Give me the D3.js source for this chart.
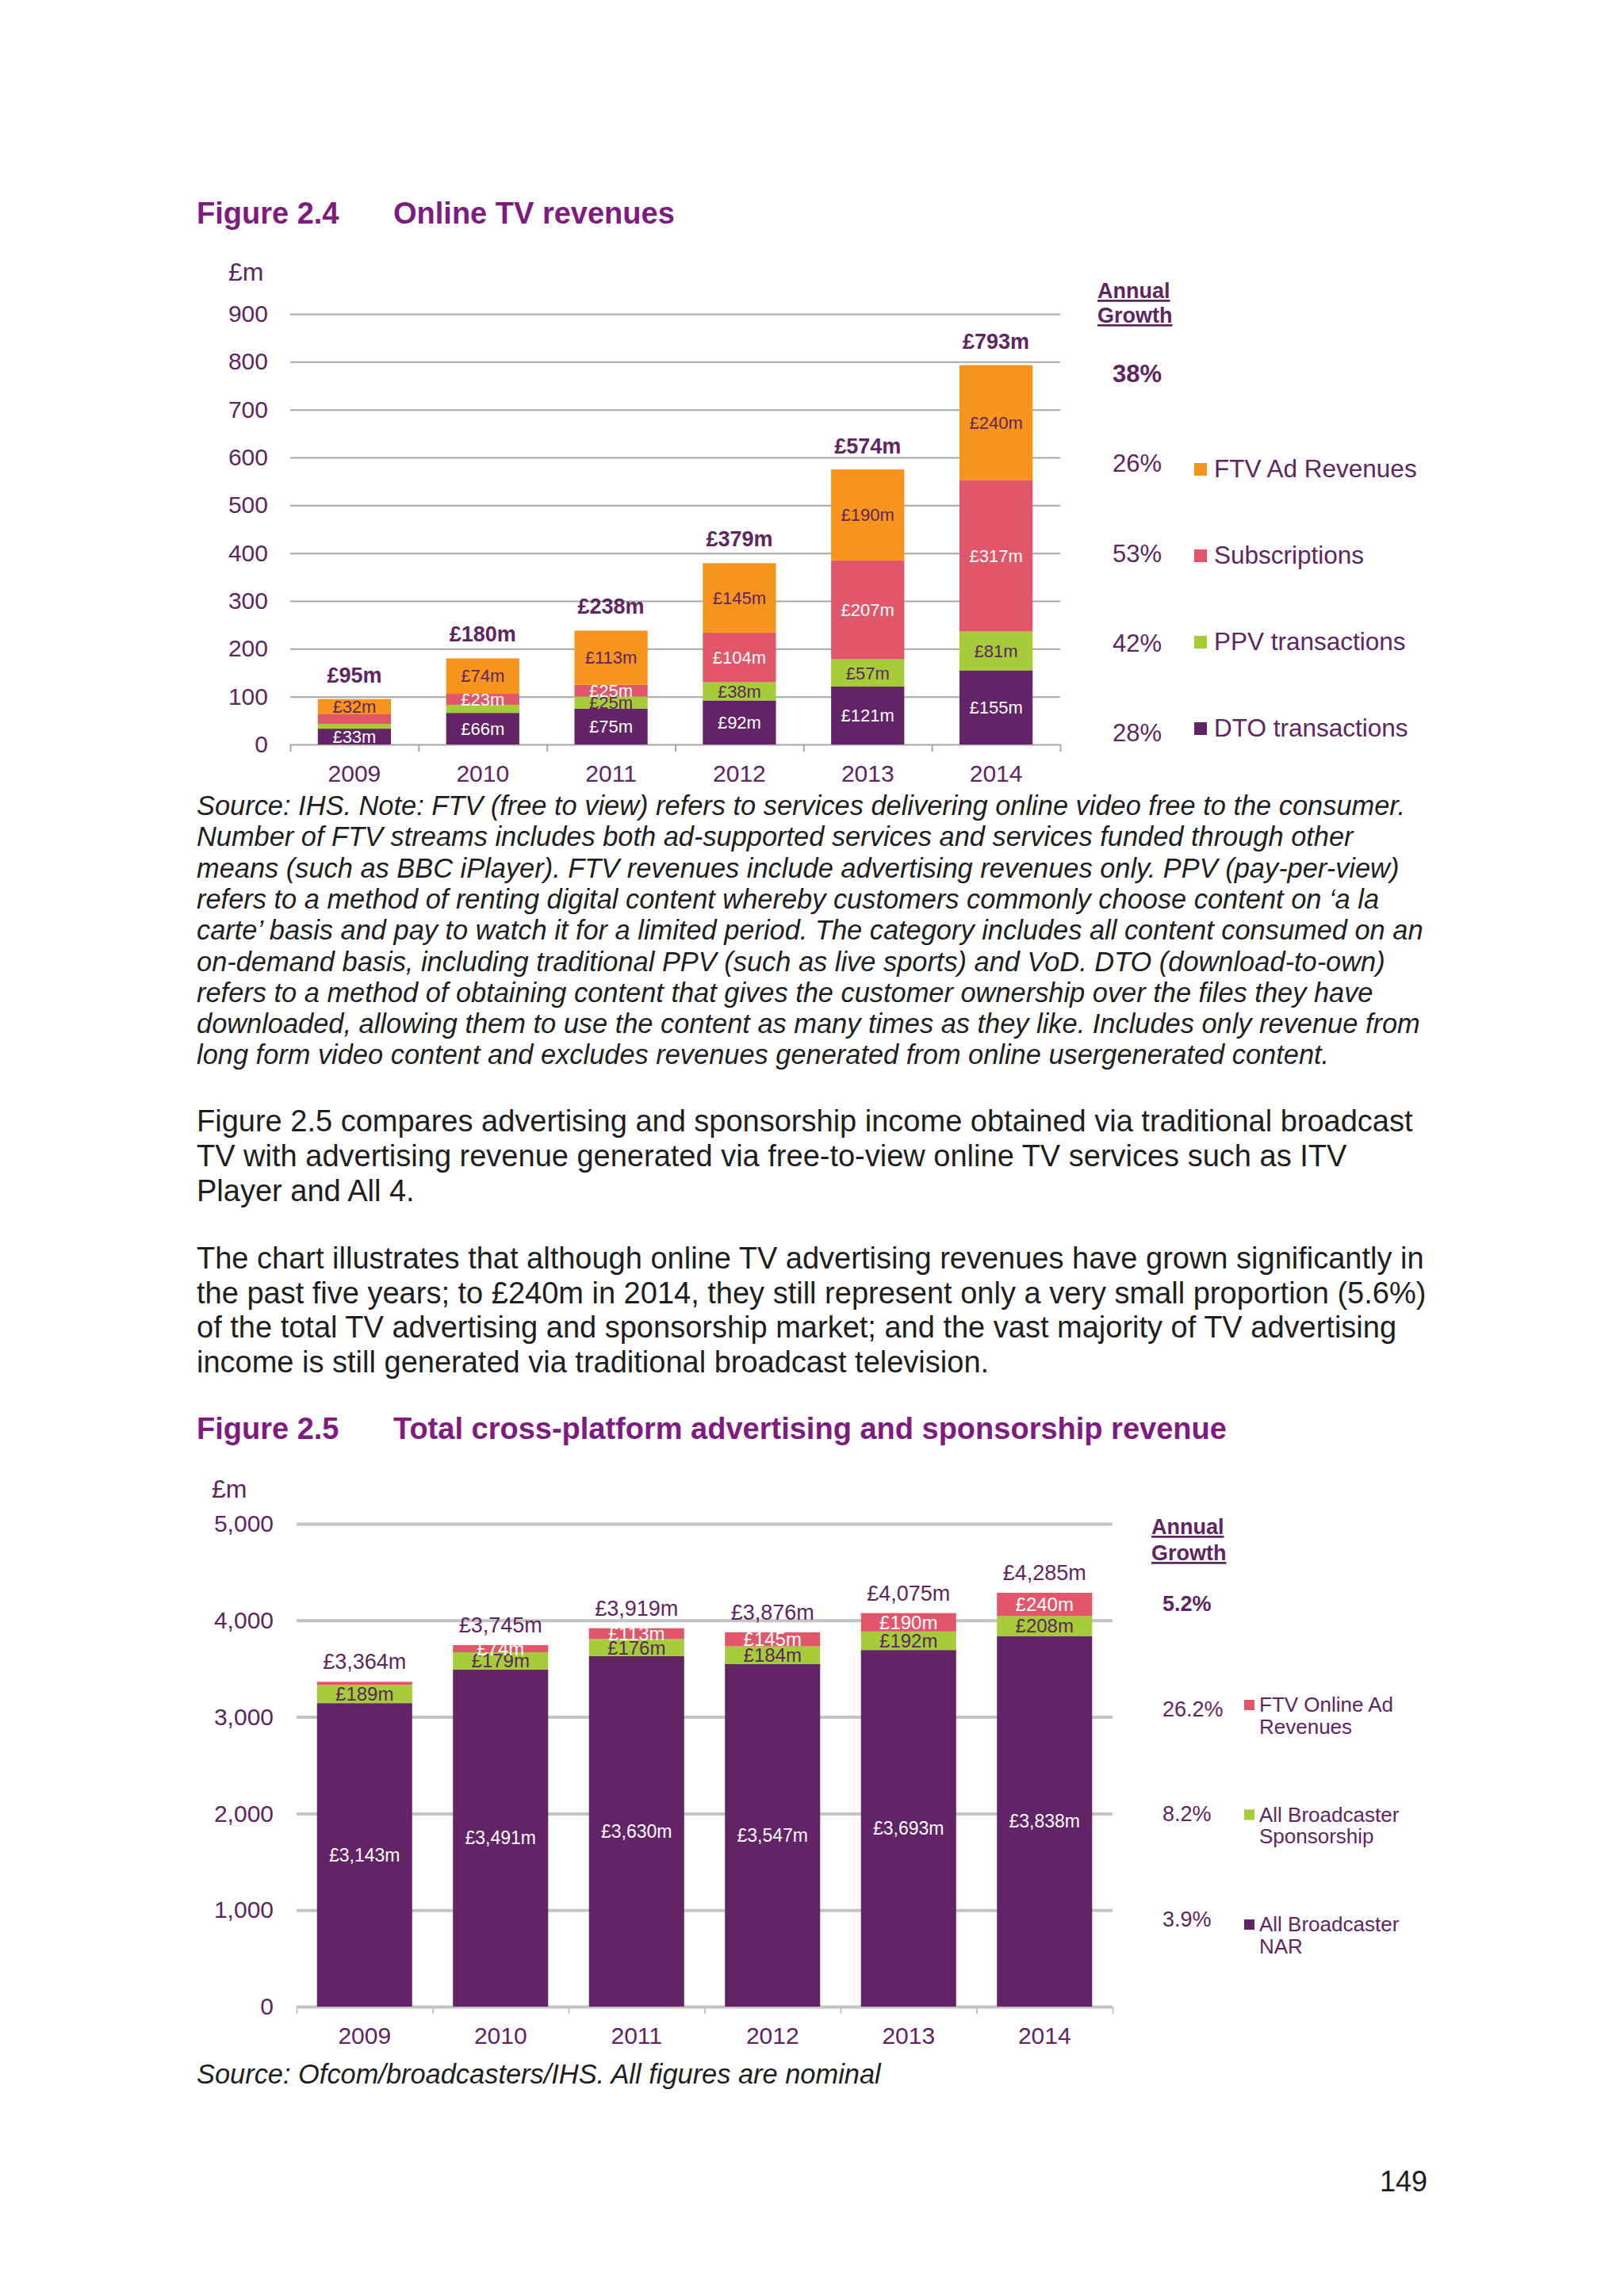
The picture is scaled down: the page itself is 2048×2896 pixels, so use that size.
<!DOCTYPE html>
<meta charset="utf-8">
<style>
body { margin: 0; background: #fff; }
svg { display: block; font-family: "Liberation Sans", Arial, sans-serif; }
.title { fill: #7f1b80; font-weight: bold; font-size: 38px; }
.body-text { fill: #1e1e1e; font-size: 38px; }
.note { fill: #1e1e1e; font-size: 34.4px; font-style: italic; }
.grid1 line { stroke: #a6a6a6; stroke-width: 2px; }
.grid2 line { stroke: #c4c4c4; stroke-width: 4px; }
.axis text { fill: #5e2560; }
</style>
<svg width="2048" height="2896"></svg>
<script src="https://cdn.jsdelivr.net/npm/d3@7"></script>
<script>
// ---- data: Figure 2.4 ----
var years = ["2009", "2010", "2011", "2012", "2013", "2014"];
var dto = [33, 66, 75, 92, 121, 155];
var ppv = [10, 17, 25, 38, 57, 81];
var subs = [20, 23, 25, 104, 207, 317];
var ftvAd = [32, 74, 113, 145, 190, 240];
var totals1 = [95, 180, 238, 379, 574, 793];
var ticks1 = [0, 100, 200, 300, 400, 500, 600, 700, 800, 900];
var growth1 = ["38%", "26%", "53%", "42%", "28%"];
var legend1 = ["FTV Ad Revenues", "Subscriptions", "PPV transactions", "DTO transactions"];

// ---- data: Figure 2.5 ----
var nar = [3143, 3491, 3630, 3547, 3693, 3838];
var sponsorship = [189, 179, 176, 184, 192, 208];
var ftvOnline = [32, 74, 113, 145, 190, 240];
var totals2 = [3364, 3745, 3919, 3876, 4075, 4285];
var ticks2 = [0, 1000, 2000, 3000, 4000, 5000];
var growth2 = ["5.2%", "26.2%", "8.2%", "3.9%"];
var legend2 = [["FTV Online Ad", "Revenues"], ["All Broadcaster", "Sponsorship"], ["All Broadcaster", "NAR"]];

var purple = "#622466", green = "#a5cd39", pink = "#e2566a", orange = "#f7941d";
var dark = "#5e2560";

var svg = d3.select("svg");

// ---------- text blocks ----------
function title(y, fig, text) {
  svg.append("text").attr("class", "title").attr("x", 248).attr("y", y).text(fig);
  svg.append("text").attr("class", "title").attr("x", 496).attr("y", y).text(text);
}

var noteLines = [
  "Source: IHS. Note: FTV (free to view) refers to services delivering online video free to the consumer.",
  "Number of FTV streams includes both ad-supported services and services funded through other",
  "means (such as BBC iPlayer). FTV revenues include advertising revenues only. PPV (pay-per-view)",
  "refers to a method of renting digital content whereby customers commonly choose content on \u2018a la",
  "carte\u2019 basis and pay to watch it for a limited period. The category includes all content consumed on an",
  "on-demand basis, including traditional PPV (such as live sports) and VoD. DTO (download-to-own)",
  "refers to a method of obtaining content that gives the customer ownership over the files they have",
  "downloaded, allowing them to use the content as many times as they like. Includes only revenue from",
  "long form video content and excludes revenues generated from online usergenerated content."
];
var para1 = [
  "Figure 2.5 compares advertising and sponsorship income obtained via traditional broadcast",
  "TV with advertising revenue generated via free-to-view online TV services such as ITV",
  "Player and All 4."
];
var para2 = [
  "The chart illustrates that although online TV advertising revenues have grown significantly in",
  "the past five years; to \u00a3240m in 2014, they still represent only a very small proportion (5.6%)",
  "of the total TV advertising and sponsorship market; and the vast majority of TV advertising",
  "income is still generated via traditional broadcast television."
];

function lines(arr, cls, y0, step) {
  svg.append("g").selectAll("text").data(arr).join("text")
      .attr("class", cls)
      .attr("x", 248)
      .attr("y", function(d, i) { return y0 + i * step; })
      .text(function(d) { return d; });
}

title(282, "Figure 2.4", "Online TV revenues");
lines(noteLines, "note", 1028, 39.3);
lines(para1, "body-text", 1427, 44);
lines(para2, "body-text", 1600, 43.5);
title(1815, "Figure 2.5", "Total cross-platform advertising and sponsorship revenue");
lines(["Source: Ofcom/broadcasters/IHS. All figures are nominal"], "note", 2628, 0);

svg.append("text").attr("x", 1800).attr("y", 2764)
    .attr("text-anchor", "end").attr("fill", "#1e1e1e").attr("font-size", 36)
    .text("149");

// ---------- stacked bar chart helper ----------
function stackedChart(o) {
  var g = svg.append("g");
  var x = d3.scaleBand().domain(years).range(o.xr).paddingInner(o.pad).paddingOuter(o.pad / 2);
  var y = d3.scaleLinear().domain(o.domain).range(o.yr);

  // grid + y labels
  g.append("g")
      .attr("class", "axis " + o.gridClass)
      .attr("transform", "translate(" + o.xr[0] + ",0)")
      .call(d3.axisLeft(y).tickValues(o.ticks).tickSize(-(o.xr[1] - o.xr[0]))
          .tickPadding(o.tickPad).tickFormat(o.tickFormat))
      .call(function(s) { s.select(".domain").remove(); })
      .selectAll("text").attr("font-size", o.tickFont).attr("font-family", null);

  // boundary ticks on x axis
  var bounds = d3.scaleLinear().domain([0, years.length]).range(o.xr);
  g.append("g")
      .attr("class", "axis " + o.gridClass)
      .attr("transform", "translate(0," + o.yr[0] + ")")
      .call(d3.axisBottom(bounds).ticks(years.length).tickSize(9).tickFormat(""))
      .call(function(s) { s.select(".domain").remove(); })
      .selectAll("line").style("stroke-width", "2px");

  // category labels
  g.append("g")
      .attr("class", "axis")
      .attr("transform", "translate(0," + o.yr[0] + ")")
      .call(d3.axisBottom(x).tickSize(0).tickPadding(26))
      .call(function(s) { s.select(".domain").remove(); })
      .selectAll("text").attr("font-size", o.tickFont).attr("font-family", null);

  // bars
  var rows = years.map(function(yr, i) {
    var r = {year: yr};
    o.series.forEach(function(s) { r[s.key] = s.values[i]; });
    return r;
  });
  var stack = d3.stack().keys(o.series.map(function(s) { return s.key; }))(rows);

  stack.forEach(function(layer, li) {
    var s = o.series[li];
    var lg = g.append("g");
    lg.selectAll("rect").data(layer).join("rect")
        .attr("x", function(d) { return x(d.data.year); })
        .attr("width", x.bandwidth())
        .attr("y", function(d) { return y(d[1]); })
        .attr("height", function(d) { return y(d[0]) - y(d[1]); })
        .attr("fill", s.color);
    lg.selectAll("text").data(layer.filter(function(d) { return d[1] - d[0] >= o.minLabel; }))
      .join("text")
        .attr("x", function(d) { return x(d.data.year) + x.bandwidth() / 2; })
        .attr("y", function(d) { return y((d[0] + d[1]) / 2); })
        .attr("dy", "0.35em")
        .attr("text-anchor", "middle")
        .attr("font-size", s.key === o.bigKey ? o.bigFont : o.segFont)
        .attr("fill", s.label)
        .text(function(d) { return "\u00a3" + d3.format(",")(d[1] - d[0]) + "m"; });
  });

  // totals
  g.append("g").selectAll("text").data(o.totals).join("text")
      .attr("x", function(d, i) { return x(years[i]) + x.bandwidth() / 2; })
      .attr("y", function(d) { return y(d) - o.totalGap; })
      .attr("text-anchor", "middle")
      .attr("font-size", o.totalFont)
      .attr("font-weight", o.totalWeight)
      .attr("fill", dark)
      .text(function(d) { return "\u00a3" + d3.format(",")(d) + "m"; });

  // £m unit
  g.append("text").attr("x", o.unit[0]).attr("y", o.unit[1]).attr("dy", "0.35em")
      .attr("font-size", o.tickFont + 2).attr("fill", dark).text("\u00a3m");
}

stackedChart({
  xr: [366, 1337], yr: [939, 396], domain: [0, 900], pad: 0.43,
  ticks: ticks1, tickFormat: d3.format("d"), tickPad: 28, tickFont: 30, gridClass: "grid1",
  series: [
    {key: "dto", values: dto, color: purple, label: "#fff"},
    {key: "ppv", values: ppv, color: green, label: dark},
    {key: "subs", values: subs, color: pink, label: "#fff"},
    {key: "ftv", values: ftvAd, color: orange, label: dark}
  ],
  minLabel: 21, segFont: 22, bigKey: null, bigFont: 22,
  totals: totals1, totalGap: 21, totalFont: 27, totalWeight: "bold",
  unit: [288, 343]
});

stackedChart({
  xr: [374, 1403], yr: [2531, 1922], domain: [0, 5000], pad: 0.3,
  ticks: ticks2, tickFormat: d3.format(","), tickPad: 29, tickFont: 30, gridClass: "grid2",
  series: [
    {key: "nar", values: nar, color: purple, label: "#fff"},
    {key: "spons", values: sponsorship, color: green, label: dark},
    {key: "ftv", values: ftvOnline, color: pink, label: "#fff"}
  ],
  minLabel: 50, segFont: 24, bigKey: "nar", bigFont: 23,
  totals: totals2, totalGap: 16, totalFont: 27, totalWeight: "normal",
  unit: [267, 1878]
});

// ---------- legends ----------
function growthHeader(x, y, size, step) {
  svg.append("g").selectAll("text").data(["Annual", "Growth"]).join("text")
      .attr("x", x).attr("y", function(d, i) { return y + i * step; })
      .attr("font-size", size).attr("font-weight", "bold")
      .attr("fill", dark).style("text-decoration", "underline")
      .text(function(d) { return d; });
}

growthHeader(1384, 376, 27, 31);
svg.append("g").selectAll("text").data(growth1).join("text")
    .attr("x", 1403).attr("y", function(d, i) { return 482 + i * 113.3; })
    .attr("font-size", 31).attr("font-weight", function(d, i) { return i === 0 ? "bold" : "normal"; })
    .attr("fill", dark).text(function(d) { return d; });
var colors1 = [orange, pink, green, purple];
var leg1 = svg.append("g").selectAll("g").data(legend1).join("g")
    .attr("transform", function(d, i) { return "translate(1506," + (602 + i * 109) + ")"; });
leg1.append("rect").attr("y", -18).attr("width", 16).attr("height", 16)
    .attr("fill", function(d, i) { return colors1[i]; });
leg1.append("text").attr("x", 25).attr("font-size", 31.5).attr("fill", dark)
    .text(function(d) { return d; });

growthHeader(1452, 1935, 27, 33);
svg.append("g").selectAll("text").data(growth2).join("text")
    .attr("x", 1466).attr("y", function(d, i) { return 2032 + i * 132.7; })
    .attr("font-size", 27).attr("font-weight", function(d, i) { return i === 0 ? "bold" : "normal"; })
    .attr("fill", dark).text(function(d) { return d; });
var colors2 = [pink, green, purple];
var leg2 = svg.append("g").selectAll("g").data(legend2).join("g")
    .attr("transform", function(d, i) { return "translate(1569," + (2159 + i * 138.5) + ")"; });
leg2.append("rect").attr("y", -15).attr("width", 13).attr("height", 13)
    .attr("fill", function(d, i) { return colors2[i]; });
leg2.selectAll("text").data(function(d) { return d; }).join("text")
    .attr("x", 19).attr("y", function(d, i) { return i * 27.7; })
    .attr("font-size", 26).attr("fill", dark)
    .text(function(d) { return d; });
</script>
